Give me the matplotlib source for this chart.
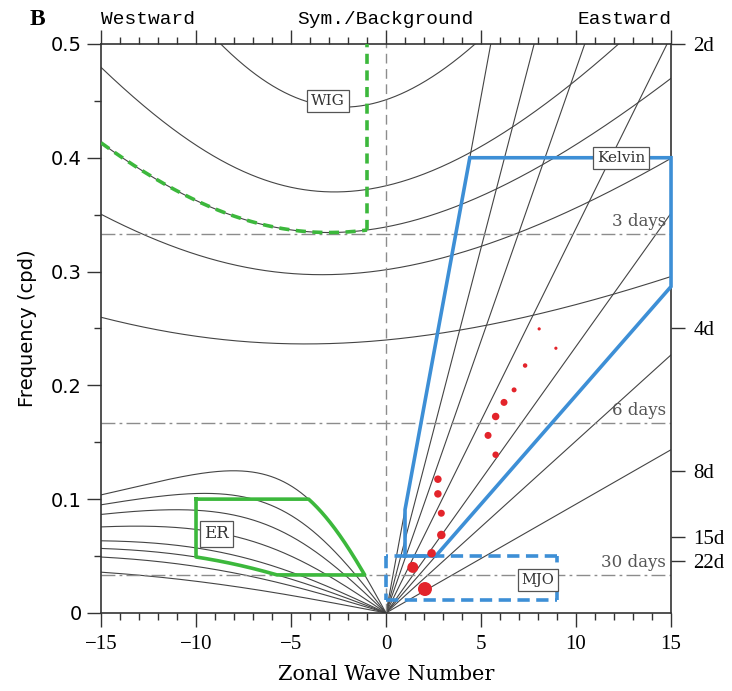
import numpy as np
import matplotlib
matplotlib.use("Agg")
import matplotlib.pyplot as plt
from matplotlib.ticker import MultipleLocator

# ---------------- data ----------------
# equivalent depths (m) of the theoretical dispersion curves
kelvin_h = [2, 5, 8, 12, 25, 50, 90, 180]
er_h = [2, 5, 8, 12, 25, 50, 90, 180]
ig_h = [2, 5, 8, 12, 25]

# red dots (zonal wave number, frequency cpd, dot diameter px)
dot_k = [2.05, 1.41, 2.40, 2.91, 2.91, 2.73, 2.73, 5.77, 5.37, 5.77, 6.21, 6.74, 7.32, 8.06, 8.94]
dot_f = [0.021, 0.040, 0.0524, 0.0685, 0.0876, 0.1046, 0.1175, 0.139, 0.156, 0.1726, 0.185,
         0.196, 0.2174, 0.2496, 0.2326]
dot_d = [14, 11, 8.5, 8.5, 7, 7.5, 7.5, 6.5, 7, 7.5, 7, 5, 4.5, 3.2, 3.2]

period_days = [3, 6, 30]
right_days = [2, 4, 8, 15, 22]

# filter regions
kelvin_box = dict(k_min=1, k_max=15, f_min=0.05, f_max=0.4, h_min=8, h_max=180)
er_box = dict(k_min=-10, f_min=1 / 30, f_max=0.1, h_min=8, h_max=180)
wig_box = dict(k_max=-1, h=8)
mjo_box = dict(k_min=0, k_max=9, f_min=1 / 90, f_max=0.05)

# ---------------- shallow water theory ----------------
g = 9.81
R = 6.371e6
beta = 2 * 7.292e-5 / R


def to_cpd(w):
    return w * 86400 / (2 * np.pi)


def n1_roots(s, h):
    c = np.sqrt(g * h)
    k = s / R
    r = np.roots([1, 0, -c * c * (k * k + 3 * beta / c), -beta * k * c * c])
    return np.sort(r.real)


def kelvin_slope(h):
    # cpd per zonal wave number
    return to_cpd(np.sqrt(g * h) / R)


def ig_curve(h, s):
    return np.array([to_cpd(n1_roots(x, h)[-1]) for x in s])


def er_curve(h, s):
    return np.array([to_cpd(n1_roots(x, h)[1]) for x in s])


# ---------------- figure ----------------
fig = plt.figure(figsize=(7.32, 6.91), dpi=100)
ax = fig.add_axes([0.138, 0.113, 0.7787, 0.8234])
ax.set_xlim(-15, 15)
ax.set_ylim(0, 0.5)

curve_col = "#444444"
s_all = np.linspace(-15, 15, 601)
s_west = np.linspace(-15, 0, 601)
s_east = np.linspace(0, 15, 2)

for h in ig_h:
    ax.plot(s_all, ig_curve(h, s_all), color=curve_col, lw=0.8)
for h in er_h:
    ax.plot(s_west, er_curve(h, s_west), color=curve_col, lw=0.8)
for h in kelvin_h:
    ax.plot(s_east, kelvin_slope(h) * s_east, color=curve_col, lw=0.8)

# period lines
grey = "#8c8c8c"
for d in period_days:
    ax.axhline(1 / d, color=grey, lw=1.0, dashes=(10, 3, 2, 3))
    ax.text(14.75, 1 / d + 0.011, f"{d} days", ha="right", va="center",
            fontsize=12, color="#555555", family="DejaVu Serif")
ax.axvline(0, color=grey, lw=1.0, dashes=(7, 4))

blue = "#3d8fd6"
green = "#3cb83c"
dash_thick = (3.4, 1.8)

# Kelvin region
sl_hi = kelvin_slope(kelvin_box["h_max"])
sl_lo = kelvin_slope(kelvin_box["h_min"])
kb = kelvin_box
kx = [kb["k_min"], kb["k_min"], kb["f_max"] / sl_hi, kb["k_max"], kb["k_max"], kb["f_min"] / sl_lo, kb["k_min"]]
ky = [kb["f_min"], sl_hi * kb["k_min"], kb["f_max"], kb["f_max"], sl_lo * kb["k_max"], kb["f_min"], kb["f_min"]]
ax.plot(kx, ky, color=blue, lw=2.6, solid_joinstyle="miter", clip_on=False, zorder=4)

# MJO region, one side at a time so every side shows its dashes
mb = mjo_box
corners = [(mb["k_min"], mb["f_min"]), (mb["k_max"], mb["f_min"]),
           (mb["k_max"], mb["f_max"]), (mb["k_min"], mb["f_max"])]
for i in range(4):
    (x0, y0), (x1, y1) = corners[i], corners[(i + 1) % 4]
    ax.plot([x0, x1], [y0, y1], color=blue, lw=2.6, dashes=dash_thick, zorder=4)

# ER region
s_fine = np.linspace(-15, -0.01, 3000)
f_hi = er_curve(er_box["h_max"], s_fine)
i_pk = np.argmax(f_hi)
br_s, br_f = s_fine[i_pk:], f_hi[i_pk:]
s_top = np.interp(er_box["f_max"], br_f[::-1], br_s[::-1])
s_bot = np.interp(er_box["f_min"], br_f[::-1], br_s[::-1])
m = (br_s >= s_top) & (br_s <= s_bot)
f_lo = er_curve(er_box["h_min"], s_fine)
s_lo_end = np.interp(er_box["f_min"], f_lo[::-1], s_fine[::-1])
m2 = (s_fine >= er_box["k_min"]) & (s_fine <= s_lo_end)
ex = np.concatenate([[er_box["k_min"], s_top], br_s[m], [s_bot, s_lo_end], s_fine[m2][::-1],
                     [er_box["k_min"], er_box["k_min"]]])
ey = np.concatenate([[er_box["f_max"], er_box["f_max"]], br_f[m], [er_box["f_min"], er_box["f_min"]],
                     f_lo[m2][::-1], [np.interp(er_box["k_min"], s_fine, f_lo), er_box["f_max"]]])
ax.plot(ex, ey, color=green, lw=2.6, zorder=4)

# WIG region
s_wig = np.linspace(-15, wig_box["k_max"], 300)
f_wig = ig_curve(wig_box["h"], s_wig)
ax.plot(s_wig, f_wig, color=green, lw=2.6, dashes=(2.8, 1.8), zorder=4)
ax.plot([wig_box["k_max"], wig_box["k_max"]], [f_wig[-1], 0.5], color=green, lw=2.6,
        dashes=(2.8, 1.8), zorder=4)

# red dots
ax.scatter(dot_k, dot_f, s=(np.array(dot_d) * 0.72) ** 2, color="#e3242b", zorder=5, lw=0)

# labels in boxes
box_kw = dict(boxstyle="square,pad=0.25", fc="white", ec="#555555", lw=0.9)
for txt, x, y, fs in [("WIG", -3.06, 0.450, 11), ("Kelvin", 12.36, 0.400, 11),
                      ("ER", -8.93, 0.0694, 12), ("MJO", 8.01, 0.029, 10.5)]:
    ax.text(x, y, txt, ha="center", va="center", fontsize=fs, family="DejaVu Serif",
            color="#333333", bbox=box_kw, zorder=6)

# axes styling
for sp in ax.spines.values():
    sp.set_color("#333333")
    sp.set_linewidth(1.2)
ax.xaxis.set_major_locator(MultipleLocator(5))
ax.xaxis.set_minor_locator(MultipleLocator(1))
ax.yaxis.set_major_locator(MultipleLocator(0.1))
ax.yaxis.set_minor_locator(MultipleLocator(0.05))
ax.tick_params(which="both", direction="out", top=True, right=False, color="#333333", width=1.0)
ax.tick_params(which="major", length=10)
ax.tick_params(which="minor", length=5)
ax.tick_params(axis="x", labelsize=15, pad=6)
ax.tick_params(axis="y", labelsize=14, pad=4)
for lab in ax.get_xticklabels():
    lab.set_family("Liberation Serif")
ax.set_yticks([0, 0.1, 0.2, 0.3, 0.4, 0.5])
ax.set_yticklabels(["0", "0.1", "0.2", "0.3", "0.4", "0.5"])
ax.set_xlabel("Zonal Wave Number", fontsize=15, family="DejaVu Serif", labelpad=8)
ax.set_ylabel("Frequency (cpd)", fontsize=14, labelpad=10)

ax2 = ax.twinx()
ax2.set_ylim(0, 0.5)
ax2.set_yticks([1 / d for d in right_days])
ax2.set_yticklabels([f"{d}d" for d in right_days], family="Liberation Serif", fontsize=15)
ax2.tick_params(direction="out", length=10, width=1.0, color="#333333", pad=6)
for sp in ax2.spines.values():
    sp.set_visible(False)

fig.text(0.138, 0.972, "Westward", ha="left", va="center", fontsize=14, family="Liberation Mono")
fig.text(0.527, 0.972, "Sym./Background", ha="center", va="center", fontsize=14, family="Liberation Mono")
fig.text(0.917, 0.972, "Eastward", ha="right", va="center", fontsize=14, family="Liberation Mono")
fig.text(0.04, 0.972, "B", ha="left", va="center", fontsize=17, fontweight="bold", family="Liberation Serif")

fig.savefig("out.png", dpi=100)
